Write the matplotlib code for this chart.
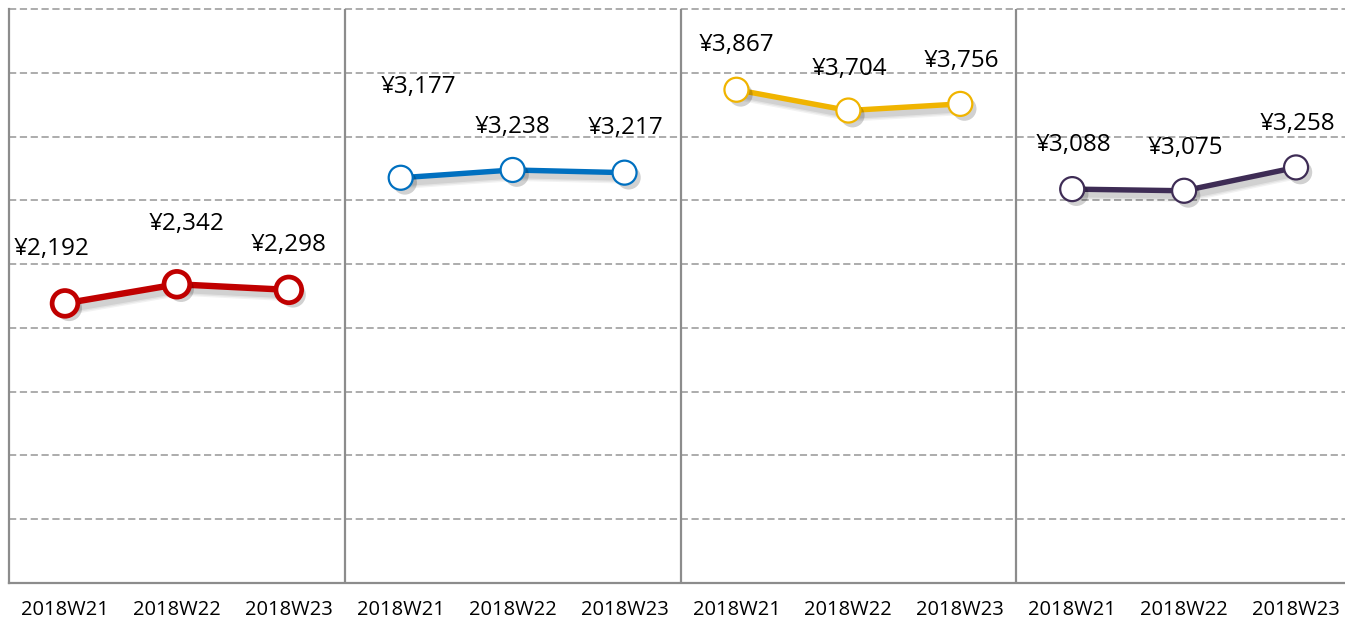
import matplotlib
matplotlib.use("Agg")
import matplotlib.pyplot as plt
import matplotlib.patheffects as pe

plt.rcParams['font.family'] = ['Open Sans', 'DejaVu Sans']

weeks = ["2018W21", "2018W22", "2018W23"]
series_red = [2192, 2342, 2298]
series_blue = [3177, 3238, 3217]
series_yellow = [3867, 3704, 3756]
series_purple = [3088, 3075, 3258]
series_list = [series_red, series_blue, series_yellow, series_purple]
colors = ["#C00000", "#0070C0", "#F0B400", "#3E2C55"]
# label offsets in pixels (dx, dy)
label_offsets = [
    [(-13, 54), (10, 60), (0, 45)],
    [(18, 91), (0, 43), (1, 45)],
    [(0, 45), (1, 42), (1, 43)],
    [(1, 44), (1, 43), (1, 43)],
]

W, H = 1345, 619
fig = plt.figure(figsize=(W / 100, H / 100), dpi=100)
ax = fig.add_axes([9 / W, (H - 583) / H, 1343 / W, (583 - 9) / H])
ax.set_xlim(0, 12)
ax.set_ylim(0, 4500)

grid_color = "#A6A6A6"
for yv in range(500, 4501, 500):
    ax.axhline(yv, color=grid_color, lw=1.3, ls=(0, (4, 2)), zorder=1, clip_on=False)

axis_color = "#8C8C8C"
for sep in [3, 6, 9]:
    ax.axvline(sep, color=axis_color, lw=1.6, zorder=2)

for s in ["top", "right"]:
    ax.spines[s].set_visible(False)
for s in ["left", "bottom"]:
    ax.spines[s].set_color(axis_color)
    ax.spines[s].set_linewidth(1.6)

ax.set_yticks([])
xticks = [i + 0.5 for i in range(12)]
ax.set_xticks(xticks)
ax.set_xticklabels(weeks * 4, fontsize=14.5, color="#000000")
ax.tick_params(axis='x', length=0, pad=12)


def blur_shadow(lw):
    effs = []
    for extra, a in [(5, 0.05), (3, 0.06), (1, 0.08)]:
        effs.append(pe.Stroke(offset=(3, -3.5), linewidth=lw + extra, foreground="black", alpha=a))
    effs.append(pe.Normal())
    return effs


mshadow = []
for extra, a in [(3, 0.05), (1.5, 0.06), (0, 0.08)]:
    mshadow.append(pe.SimplePatchShadow(offset=(3, -3.5), shadow_rgbFace="black", alpha=a))
mshadow.append(pe.Normal())

for k, (vals, col) in enumerate(zip(series_list, colors)):
    xs = [3 * k + 0.5 + i for i in range(3)]
    lw = 4.6 if k == 0 else 3.9
    ms = 18.5 if k == 0 else 17.3
    mew = 3.4 if k == 0 else 1.6
    ax.plot(xs, vals, color=col, lw=lw, zorder=4, path_effects=blur_shadow(lw),
            solid_capstyle='butt')
    ax.plot(xs, vals, ls='none', marker='o', ms=ms, mfc='white', mec=col, mew=mew,
            zorder=5, path_effects=mshadow)
    for i, (x, v) in enumerate(zip(xs, vals)):
        dx, dy = label_offsets[k][i]
        ax.annotate(f"¥{v:,}", (x, v), xytext=(dx, dy), textcoords='offset pixels',
                    ha='center', va='center', fontsize=17.5, color="#000000", zorder=6)

fig.savefig("out.png", dpi=100)
